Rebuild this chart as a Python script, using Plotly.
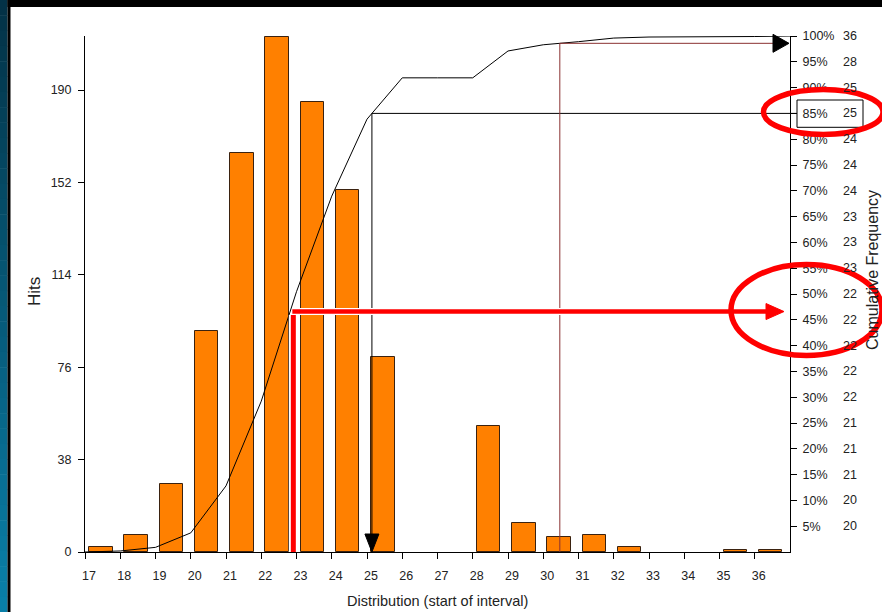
import numpy as np
import plotly.graph_objects as go

# ---------------- data ----------------
bins = list(range(17, 37))                      # start of interval
hits = [2, 7, 28, 91, 164, 212, 185, 149, 80, 0, 0, 52, 12, 6, 7, 2, 0, 0, 1, 1]
hits_ticks = [0, 38, 76, 114, 152, 190]
pct_ticks = [0.05, 0.10, 0.15, 0.20, 0.25, 0.30, 0.35, 0.40, 0.45, 0.50,
             0.55, 0.60, 0.65, 0.70, 0.75, 0.80, 0.85, 0.90, 0.95, 1.00]
pct_labels = ["5%", "10%", "15%", "20%", "25%", "30%", "35%", "40%", "45%", "50%",
              "55%", "60%", "65%", "70%", "75%", "80%", "85%", "90%", "95%", "100%"]
pct_bins = [20, 20, 21, 21, 21, 22, 22, 22, 22, 22,
            23, 23, 23, 24, 24, 24, 25, 25, 28, 36]
x_title = "Distribution (start of interval)"
y_title = "Hits"
y2_title = "Cumulative Frequency"

# highlighted values
mark_pct = 0.85          # boxed percentile
mean_x = 22.91           # red marker
mean_level = 0.466
high_x = 30.47           # brown marker

# cumulative curve (end of each interval)
cum_x = [bins[0]] + [b + 1 for b in bins]
cum_y = [0.0] + list(np.cumsum(hits) / np.sum(hits))
x85 = float(np.interp(mark_pct, cum_y, cum_x))
high_level = float(np.interp(high_x, cum_x, cum_y))

# ---------------- geometry ----------------
W, H = 882, 612
L, R, T, B = 85, 790, 36, 552
XMIN, XMAX = 17, 37
YMAX = 190 * (B - T) / (B - 90)


def px(xp):
    return (xp - L) / (R - L)


def py(yp):
    return (B - yp) / (B - T)


def dx(v):
    return (v - XMIN) / (XMAX - XMIN)


FONT = "Liberation Sans, Arial, sans-serif"
TXT = "#222222"

fig = go.Figure()
fig.add_trace(go.Bar(
    x=bins, y=hits, width=0.67, offset=0.115,
    marker=dict(color="#FF8000",
                line=dict(color="#3a2210", width=[1 if h > 0 else 0 for h in hits])),
    showlegend=False, hoverinfo="x+y"))
fig.add_trace(go.Scatter(
    x=cum_x, y=cum_y, yaxis="y2", mode="lines",
    line=dict(color="#000000", width=1), showlegend=False))

shapes = []
# left gradient strip
N = 40
c0 = np.array([3, 50, 70])
c1 = np.array([10, 128, 170])
for i in range(N):
    t0 = i / N * H
    t1 = (i + 1) / N * H + 0.5
    c = (c0 + (c1 - c0) * (i + 0.5) / N).astype(int)
    shapes.append(dict(type="rect", xref="paper", yref="paper",
                       x0=px(0), x1=px(7.5), y0=py(t1), y1=py(t0),
                       fillcolor=f"rgb({c[0]},{c[1]},{c[2]})", line=dict(width=0)))
shapes.append(dict(type="rect", xref="paper", yref="paper", x0=px(7.5), x1=px(10.5),
                   y0=py(H), y1=py(0), fillcolor="#000000", line=dict(width=0)))
shapes.append(dict(type="rect", xref="paper", yref="paper", x0=px(7.5), x1=px(W),
                   y0=py(7), y1=py(0), fillcolor="#000000", line=dict(width=0)))

# 85% guide lines
shapes.append(dict(type="line", xref="paper", yref="paper", x0=dx(x85), x1=dx(x85),
                   y0=py(534), y1=mark_pct, line=dict(color="#000000", width=1)))
shapes.append(dict(type="line", xref="paper", yref="paper", x0=dx(x85), x1=px(797),
                   y0=mark_pct, y1=mark_pct, line=dict(color="#000000", width=1)))
hw = 7 / (R - L)
shapes.append(dict(type="path", xref="paper", yref="paper",
                   path=f"M {dx(x85)-hw},{py(534)} L {dx(x85)+hw},{py(534)} L {dx(x85)},0 Z",
                   fillcolor="#000000", line=dict(color="#000000", width=1)))
shapes.append(dict(type="rect", xref="paper", yref="paper", x0=px(797), x1=px(863),
                   y0=py(127.3), y1=py(100), line=dict(color="#000000", width=1)))

# brown guide lines
shapes.append(dict(type="line", xref="paper", yref="paper", x0=dx(high_x), x1=dx(high_x),
                   y0=0, y1=high_level, line=dict(color="#8a3030", width=1)))
shapes.append(dict(type="line", xref="paper", yref="paper", x0=dx(high_x), x1=px(775),
                   y0=high_level, y1=high_level, line=dict(color="#8a3030", width=1)))
hh = 9 / (B - T)
shapes.append(dict(type="path", xref="paper", yref="paper",
                   path=f"M {px(773)},{high_level-hh} L {px(773)},{high_level+hh} L {px(789)},{high_level} Z",
                   fillcolor="#000000", line=dict(color="#000000", width=1)))

# red marker + arrow
for col, wd in (("#ffffff", 9), ("#ff0000", 5)):
    shapes.append(dict(type="line", xref="paper", yref="paper", x0=dx(mean_x), x1=dx(mean_x),
                       y0=0, y1=py(315), line=dict(color=col, width=wd)))
for col, wd in (("#ffffff", 7), ("#ff0000", 4.5)):
    shapes.append(dict(type="line", xref="paper", yref="paper", x0=dx(mean_x) - 1 / (R - L), x1=px(768),
                       y0=mean_level, y1=mean_level, line=dict(color=col, width=wd)))
ah = 8 / (B - T)
shapes.append(dict(type="path", xref="paper", yref="paper",
                   path=f"M {px(766)},{mean_level-ah} L {px(766)},{mean_level+ah} L {px(784)},{mean_level} Z",
                   fillcolor="#ff0000", line=dict(color="#ff0000", width=1)))

# red ellipses
shapes.append(dict(type="circle", xref="paper", yref="paper",
                   x0=px(763.5), x1=px(883), y0=py(134.5), y1=py(89.5),
                   line=dict(color="#ff0000", width=5.5)))
shapes.append(dict(type="circle", xref="paper", yref="paper",
                   x0=px(731), x1=px(882), y0=py(355.5), y1=py(264.5),
                   line=dict(color="#ff0000", width=5.5)))

annotations = []
for v, n in zip(pct_ticks, pct_bins):
    annotations.append(dict(xref="paper", yref="paper", x=px(841), y=v, xanchor="left",
                            yanchor="middle", text=str(n), showarrow=False,
                            font=dict(family=FONT, size=12.5, color=TXT)))
annotations.append(dict(xref="paper", yref="paper", x=px(437.5), y=py(601), text=x_title,
                        showarrow=False, xanchor="center", yanchor="middle",
                        font=dict(family=FONT, size=14.5, color=TXT)))
annotations.append(dict(xref="paper", yref="paper", x=px(34), y=py(292), text=y_title,
                        showarrow=False, textangle=-90, xanchor="center", yanchor="middle",
                        font=dict(family=FONT, size=17, color=TXT)))
annotations.append(dict(xref="paper", yref="paper", x=px(872), y=py(270), text=y2_title,
                        showarrow=False, textangle=-90, xanchor="center", yanchor="middle",
                        font=dict(family=FONT, size=16, color=TXT)))

fig.update_layout(
    width=W, height=H,
    margin=dict(l=L, r=W - R, t=T, b=H - B, pad=0),
    paper_bgcolor="#ffffff", plot_bgcolor="#ffffff",
    bargap=0, showlegend=False,
    font=dict(family=FONT, size=12.5, color=TXT),
    xaxis=dict(range=[XMIN, XMAX], tickmode="array", tickvals=bins,
               ticktext=[str(b) for b in bins], ticks="outside", ticklen=6,
               tickcolor="#000000", showline=True, linecolor="#000000", linewidth=1,
               showgrid=False, zeroline=False, ticklabelshift=4, ticklabelstandoff=6,
               tickfont=dict(family=FONT, size=12.5, color=TXT)),
    yaxis=dict(range=[0, YMAX], tickmode="array", tickvals=hits_ticks,
               ticks="outside", ticklen=6, tickcolor="#000000", showline=True,
               linecolor="#000000", linewidth=1, showgrid=False, zeroline=False,
               ticklabelstandoff=4,
               tickfont=dict(family=FONT, size=12.5, color=TXT)),
    yaxis2=dict(range=[0, 1], overlaying="y", side="right", anchor="x",
                tickmode="array", tickvals=pct_ticks, ticktext=pct_labels,
                ticks="outside", ticklen=6, tickcolor="#000000", showline=True,
                linecolor="#000000", linewidth=1, showgrid=False, zeroline=False,
                ticklabelstandoff=3,
                tickfont=dict(family=FONT, size=12.5, color=TXT)),
    shapes=shapes, annotations=annotations,
)

fig.write_html("out.html", config={"displayModeBar": False},
               post_script="document.body.style.margin='0';document.body.style.padding='0';")
